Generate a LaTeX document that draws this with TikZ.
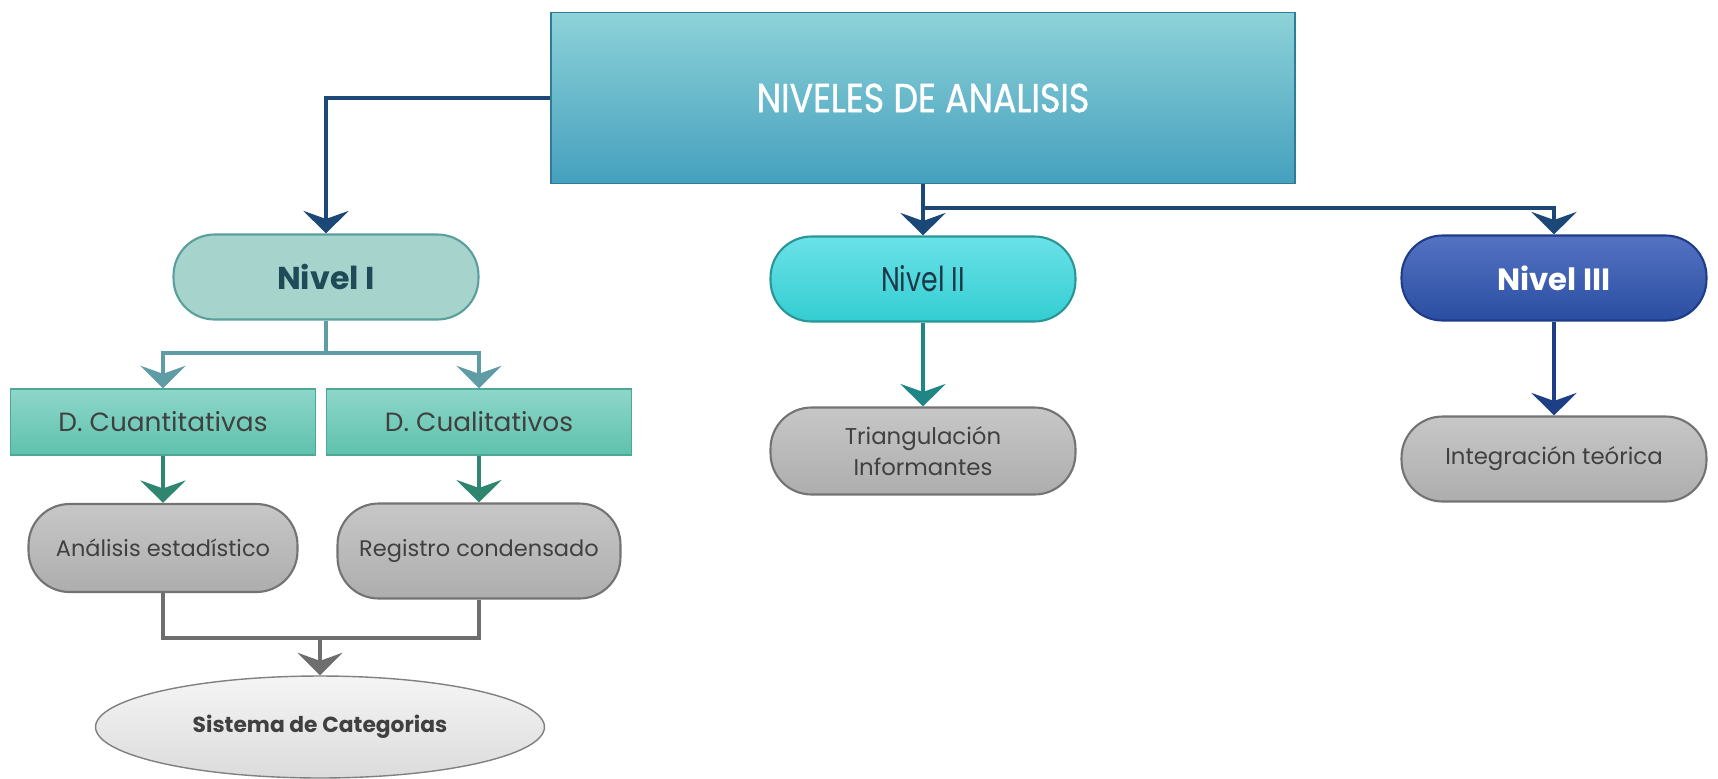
\documentclass[tikz,border=0pt]{standalone}
\usepackage{fontspec}
\setmainfont{Poppins}
\newfontfamily\narrowfont[FakeStretch=0.78]{Poppins}
\newfontfamily\titlefont[FakeStretch=0.86, FakeBold=0.9]{Poppins}
\usetikzlibrary{arrows.meta, shapes.geometric}

\definecolor{navy}{HTML}{1C4877}
\definecolor{tealline}{HTML}{5E9CA6}
\definecolor{greenline}{HTML}{2E8670}
\definecolor{greyline}{HTML}{6E6E6E}
\definecolor{cyanline}{HTML}{1F8585}
\definecolor{blueline}{HTML}{1E3F86}
\definecolor{mainborder}{HTML}{2F7C96}
\definecolor{maintop}{HTML}{8DD2D8}
\definecolor{mainbot}{HTML}{45A0BE}
\definecolor{nivIborder}{HTML}{5A9F9C}
\definecolor{nivIfill}{HTML}{A6D4CC}
\definecolor{nivItext}{HTML}{1E4B57}
\definecolor{nivIIborder}{HTML}{2A9596}
\definecolor{nivIItop}{HTML}{6AE2E8}
\definecolor{nivIIbot}{HTML}{33CDD1}
\definecolor{nivIItext}{HTML}{1E3848}
\definecolor{nivIIIborder}{HTML}{1E3C88}
\definecolor{nivIIItop}{HTML}{5572C2}
\definecolor{nivIIIbot}{HTML}{2A4EA2}
\definecolor{dattop}{HTML}{8ED6CA}
\definecolor{datbot}{HTML}{5EC2AC}
\definecolor{datborder}{HTML}{4FA796}

\tikzset{
    pill/.style={rounded corners=0.82cm, minimum width=6.1cm, minimum height=1.7cm,
                 line width=1.2pt, align=center},
    greypill/.style={pill, draw=black!55, top color=black!22, bottom color=black!32,
                     text=black!75, font=\fontsize{12.8}{17}\selectfont},
    datbox/.style={rectangle, minimum width=6.1cm, minimum height=1.32cm, line width=0.8pt,
                   draw=datborder, top color=dattop, bottom color=datbot,
                   text=black!75, font=\fontsize{15}{17}\selectfont},
    conn/.style={line width=2pt, -{Stealth[length=0.45cm, width=0.9cm, inset=0.16cm]}}
}

\begin{document}
\begin{tikzpicture}[x=0.02cm, y=-0.02cm]
\useasboundingbox (0,0) rectangle (1718,778);

\begin{scope}
    \node (main) at (923, 98) [rectangle, minimum width=14.88cm, minimum height=3.42cm,
        draw=mainborder, line width=1pt, top color=maintop, bottom color=mainbot,
        text=white, font=\titlefont\fontsize{23}{26}\selectfont] {NIVELES DE ANALISIS};

    % niveles
    \node (nivI) at (326, 277) [pill, draw=nivIborder, fill=nivIfill, text=nivItext,
        font=\bfseries\fontsize{18}{20}\selectfont] {Nivel I};
    \node (nivII) at (923, 279) [pill, draw=nivIIborder, top color=nivIItop, bottom color=nivIIbot,
        text=nivIItext, font=\narrowfont\fontsize{19.5}{21}\selectfont] {Nivel II};
    \node (nivIII) at (1554, 278) [pill, draw=nivIIIborder, top color=nivIIItop, bottom color=nivIIIbot,
        text=white, font=\bfseries\fontsize{17.5}{20}\selectfont] {Nivel III};

    % nivel I
    \node (cuant) at (163, 422) [datbox] {D. Cuantitativas};
    \node (cual) at (479, 422) [datbox] {D. Cualitativos};
    \node (anal) at (163, 548) [greypill, minimum width=5.38cm, minimum height=1.76cm] {Análisis estadístico};
    \node (regis) at (479, 551) [greypill, minimum width=5.66cm, minimum height=1.9cm] {Registro condensado};
    \node (cat) at (320, 727) [ellipse, minimum width=8.98cm, minimum height=2.04cm,
        draw=black!50, line width=0.8pt, top color=black!4, bottom color=black!14,
        text=black!75, font=\bfseries\fontsize{12.4}{14}\selectfont] {Sistema de Categorias};

    % nivel II y III
    \node (trian) at (923, 451) [greypill, minimum height=1.74cm,
        font=\fontsize{13}{17.5}\selectfont] {Triangulación\\Informantes};
    \node (integ) at (1554, 459) [greypill, minimum height=1.7cm,
        font=\fontsize{13}{15}\selectfont] {Integración teórica};
\end{scope}

\coordinate (split2) at (923, 208);
\coordinate (split1) at (326, 353);
\coordinate (join) at (320, 638);

\begin{scope}[every path/.style={conn}]
    \draw [navy] (main.west) -| (nivI.north);
    \draw [navy] (main.south) -- (nivII.north);
    \draw [navy] (split2) -| (nivIII.north);

    \draw [tealline, -] (nivI.south) -- (split1);
    \draw [tealline] (split1) -| (cuant.north);
    \draw [tealline] (split1) -| (cual.north);

    \draw [greenline] (cuant.south) -- (anal.north);
    \draw [greenline] (cual.south) -- (regis.north);

    \draw [greyline, -] (anal.south) |- (join) -| (regis.south);
    \draw [greyline] (join) -- (cat.north);

    \draw [cyanline] (nivII.south) -- (trian.north);
    \draw [blueline] (nivIII.south) -- (integ.north);
\end{scope}
\end{tikzpicture}
\end{document}
